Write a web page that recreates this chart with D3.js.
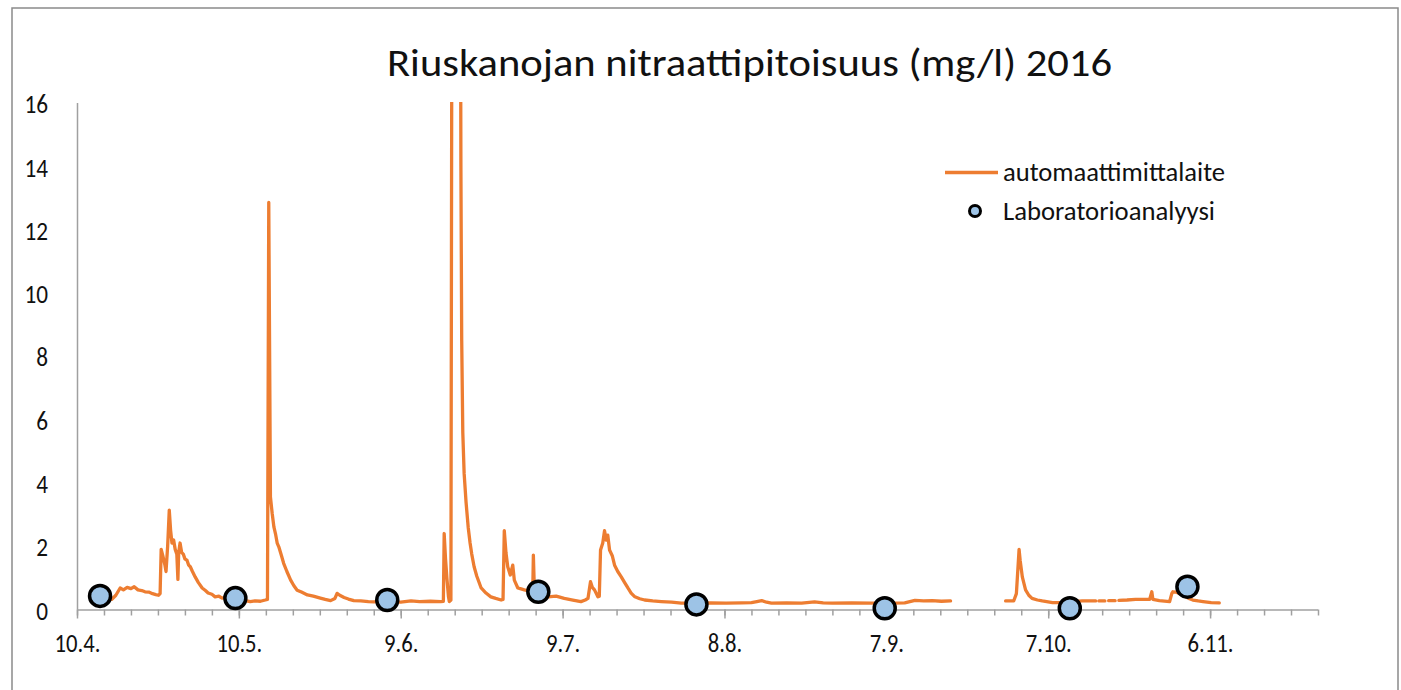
<!DOCTYPE html>
<html>
<head>
<meta charset="utf-8">
<script src="https://cdn.jsdelivr.net/npm/d3@7/dist/d3.min.js"></script>
<style>
  html, body { margin: 0; padding: 0; background: #fff; }
  svg { display: block; }
  text { font-family: Carlito, Lato, "Open Sans", sans-serif; fill: #111; }
</style>
</head>
<body>
<svg id="chart" width="1401" height="690"></svg>
<script>
// ---------------- DATA ----------------
const titleText = "Riuskanojan nitraattipitoisuus (mg/l) 2016";
const seriesNames = ["automaattimittalaite", "Laboratorioanalyysi"];

// days after 10.4.2016 (fractional); null value = gap in measurement
const autoDays = [
  6.45, 7.2, 8.0, 8.6, 9.3, 10.0, 10.6, 11.3, 12.0, 12.6, 13.3, 14.0, 14.6, 15.1, 15.4, 15.6, 15.9, 16.3, 16.5, 16.8,
  17.1, 17.35, 17.6, 17.9, 18.2, 18.5, 18.7, 18.85, 19.1, 19.4, 19.7, 20.0, 20.4, 20.7, 21.0, 21.4, 21.9, 22.5, 23.2, 23.8,
  24.3, 25.0, 25.6, 26.3, 26.9, 27.6, 28.4, 29.4, 30.3, 31.2, 32.1, 33.0, 34.0, 34.9, 35.3, 35.54, 35.85, 36.17, 36.5, 36.78,
  37.1, 37.4, 37.9, 38.3, 38.9, 39.6, 40.2, 40.8, 41.6, 42.7, 43.8, 45.1, 46.0, 47.0, 47.8, 48.2, 48.7, 49.5, 50.3, 51.3,
  52.6, 54.0, 55.0, 57.0, 58.5, 60.0, 61.9, 63.5, 65.5, 67.4, 67.9, 68.05, 68.3, 68.55, 68.85, 69.0, 69.3, 69.57, 70.0, 70.5,
  71.0, 71.15, 71.3, 71.5, 71.75, 72.1, 72.5, 72.85, 73.16, 73.6, 74.1, 74.9, 75.8, 76.7, 77.6, 78.6, 78.96, 79.19, 79.5, 79.83,
  80.3, 80.76, 81.05, 81.7, 82.3, 82.9, 83.5, 84.15, 84.47, 84.58, 84.77, 85.6, 86.4, 87.3, 88.8, 90.3, 91.9, 93.4, 94.2, 94.7,
  95.17, 95.5, 95.91, 96.54, 96.8, 97.03, 97.44, 97.77, 98.09, 98.37, 98.7, 99.2, 99.63, 100.22, 100.87, 101.5, 102.1, 102.7, 103.4, 104.3,
  105.2, 106.7, 108.3, 110.2, 112.0, 114.8, 117.5, 120.3, 123.2, 125.0, 126.0, 126.9, 127.8, 128.7, 131.5, 134.3, 136.7, 138.3, 140.0, 143.6,
  147.3, 151.0, 153.4, 155.3, 156.9, 158.5, 160.2, 161.9, 167.0,
  172.1, 173.6, 174.1, 174.6, 174.8, 175.2, 175.8, 176.4, 177.0, 178.0, 178.9, 180.8, 182.6, 184.5, 186.3, 188.8, 189.0, 189.4, 190.5, 190.7,
  191.2, 192.4, 192.6, 193.1, 194.6, 196.2, 198.8, 199.2, 199.4, 200.6, 202.5, 202.9, 203.1, 203.7, 204.5, 205.3, 206.2, 206.8, 207.8, 208.7,
  210.2, 211.7
];
const autoValues = [
  0.32, 0.45, 0.68, 0.62, 0.70, 0.66, 0.72, 0.62, 0.60, 0.56, 0.55, 0.50, 0.47, 0.45, 0.50, 1.90, 1.70, 1.40, 1.20, 2.00,
  3.14, 2.50, 2.10, 2.20, 1.90, 1.75, 0.95, 1.80, 2.10, 1.80, 1.75, 1.60, 1.55, 1.40, 1.35, 1.20, 1.03, 0.85, 0.68, 0.60,
  0.52, 0.48, 0.40, 0.42, 0.36, 0.38, 0.33, 0.35, 0.30, 0.28, 0.25, 0.27, 0.26, 0.30, 0.32, 12.86, 3.56, 3.04, 2.60, 2.40,
  2.10, 1.98, 1.70, 1.46, 1.20, 0.93, 0.75, 0.61, 0.55, 0.46, 0.42, 0.36, 0.32, 0.28, 0.35, 0.51, 0.45, 0.38, 0.33, 0.28,
  0.27, 0.25, 0.24, 0.26, 0.24, 0.23, 0.27, 0.25, 0.26, 0.25, 0.26, 2.40, 1.60, 1.00, 0.40, 0.25, 0.30, 30.0, 32.0, 30.0,
  26.0, 14.0, 8.5, 5.6, 4.3, 3.4, 2.6, 2.1, 1.75, 1.35, 1.05, 0.68, 0.52, 0.40, 0.35, 0.30, 0.32, 2.49, 1.80, 1.35,
  1.09, 1.40, 0.93, 0.68, 0.65, 0.62, 0.60, 0.56, 0.60, 1.72, 0.60, 0.55, 0.45, 0.40, 0.42, 0.35, 0.30, 0.25, 0.30, 0.35,
  0.88, 0.70, 0.62, 0.40, 0.42, 1.88, 2.10, 2.49, 2.19, 2.35, 1.88, 1.70, 1.40, 1.20, 1.03, 0.85, 0.68, 0.52, 0.40, 0.34,
  0.30, 0.27, 0.25, 0.23, 0.20, 0.20, 0.21, 0.20, 0.21, 0.22, 0.25, 0.28, 0.23, 0.20, 0.21, 0.20, 0.24, 0.21, 0.20, 0.21,
  0.20, 0.20, 0.21, 0.29, 0.27, 0.28, 0.26, 0.27, null,
  0.27, 0.27, 0.50, 1.90, 1.55, 1.03, 0.62, 0.45, 0.35, 0.30, 0.27, 0.22, 0.22, 0.25, 0.27, 0.27, null, 0.27, 0.27, null,
  0.28, 0.28, null, 0.29, 0.30, 0.32, 0.32, 0.56, 0.32, 0.28, 0.25, 0.50, 0.56, 0.55, 0.50, 0.42, 0.34, 0.30, 0.27, 0.25,
  0.22, 0.21
];

const labDays   = [4.27, 29.35, 57.5, 85.5, 114.8, 149.7, 184.0, 205.8];
const labValues = [0.43, 0.36, 0.30, 0.56, 0.16, 0.04, 0.04, 0.72];

const xMajorDays   = [0, 30, 60, 90, 120, 150, 180, 210];
const xTickLabels  = ["10.4.", "10.5.", "9.6.", "9.7.", "8.8.", "7.9.", "7.10.", "6.11."];
const xMinorStep   = 5;
const xAxisMaxDay  = 230;
const yTicks       = [0, 2, 4, 6, 8, 10, 12, 14, 16];

// ---------------- CHART ----------------
const base = Date.UTC(2016, 3, 10);
const toDate = d => new Date(base + d * 864e5);

const svg = d3.select("#chart");
const L = 77, R = 1318, T = 103, B = 609.5;

const x = d3.scaleUtc().domain([toDate(0), toDate(xAxisMaxDay)]).range([L, R]);
const y = d3.scaleLinear().domain([0, 16]).range([B, T]);

function condense(sel, factor) {
  sel.each(function () {
    const len = this.getComputedTextLength();
    d3.select(this).attr("textLength", len * factor).attr("lengthAdjust", "spacingAndGlyphs");
  });
}
function fitWidth(sel, w) {
  sel.attr("textLength", w).attr("lengthAdjust", "spacingAndGlyphs");
}

// outer frame
svg.append("rect").attr("x", 12).attr("y", 8).attr("width", 1386).attr("height", 720)
  .attr("fill", "none").attr("stroke", "#8a8a8a").attr("stroke-width", 1.5);

// title
svg.append("text").attr("x", 749.5).attr("y", 76).attr("text-anchor", "middle")
  .style("font-size", "39px").text(titleText).call(fitWidth, 725);

// x axis: minor ticks
const minorDays = d3.range(0, xAxisMaxDay + 1, xMinorStep);
const gx = svg.append("g").attr("transform", `translate(0,${B})`);
gx.call(d3.axisBottom(x).tickValues(minorDays.map(toDate)).tickSize(6).tickFormat(""));
gx.call(g => g.select(".domain").remove());
const gxMaj = svg.append("g").attr("transform", `translate(0,${B})`);
gxMaj.call(d3.axisBottom(x).tickValues(xMajorDays.map(toDate)).tickSize(9).tickPadding(33)
  .tickFormat((d, i) => xTickLabels[i]));
gxMaj.select(".domain").attr("d", `M${L},0.5H${R}`);
[gx, gxMaj].forEach(g => {
  g.selectAll("line").attr("stroke", "#a0a0a0").attr("stroke-width", 1.5);
  g.selectAll(".domain").attr("stroke", "#a0a0a0").attr("stroke-width", 1.5);
});
gxMaj.selectAll("text").attr("font-family", null).style("font-size", "27px").attr("fill", "#111").attr("dy", "0")
  .call(condense, 0.84);

// y axis
const gy = svg.append("g").attr("transform", `translate(${L},0)`);
gy.call(d3.axisLeft(y).tickValues(yTicks).tickSize(0).tickPadding(29).tickFormat(d3.format("d")));
gy.select(".domain").attr("stroke", "#a0a0a0").attr("stroke-width", 1.5).attr("d", `M0.5,${T}V${B}`);
gy.selectAll("text").attr("font-family", null).style("font-size", "27px").attr("fill", "#111").attr("dy", "0.36em")
  .call(condense, 0.86);

// clip
svg.append("clipPath").attr("id", "plotclip").append("rect")
  .attr("x", L).attr("y", T - 1).attr("width", R - L).attr("height", B - T + 30);

// line
const autoData = autoDays.map((d, i) => ({ t: toDate(d), v: autoValues[i] }));
const line = d3.line().defined(d => d.v !== null).x(d => x(d.t)).y(d => y(d.v));
svg.append("path").datum(autoData).attr("clip-path", "url(#plotclip)")
  .attr("d", line).attr("fill", "none").attr("stroke", "#ED7D31").attr("stroke-width", 3.3)
  .attr("stroke-linejoin", "round").attr("stroke-linecap", "round");

// lab points
const labData = labDays.map((d, i) => ({ t: toDate(d), v: labValues[i] }));
svg.append("g").selectAll("circle").data(labData).join("circle")
  .attr("cx", d => x(d.t)).attr("cy", d => y(d.v)).attr("r", 10.5)
  .attr("fill", "#9DC3E6").attr("stroke", "#000").attr("stroke-width", 3.5);

// legend
const lg = svg.append("g");
lg.append("line").attr("x1", 945).attr("x2", 998).attr("y1", 172.5).attr("y2", 172.5)
  .attr("stroke", "#ED7D31").attr("stroke-width", 3.3);
lg.append("circle").attr("cx", 975).attr("cy", 211).attr("r", 5.5)
  .attr("fill", "#9DC3E6").attr("stroke", "#000").attr("stroke-width", 3);
lg.append("text").attr("x", 1003).attr("y", 181).style("font-size", "26px").text(seriesNames[0]).call(fitWidth, 222);
lg.append("text").attr("x", 1003).attr("y", 220).style("font-size", "26px").text(seriesNames[1]).call(fitWidth, 212);
</script>
</body>
</html>
